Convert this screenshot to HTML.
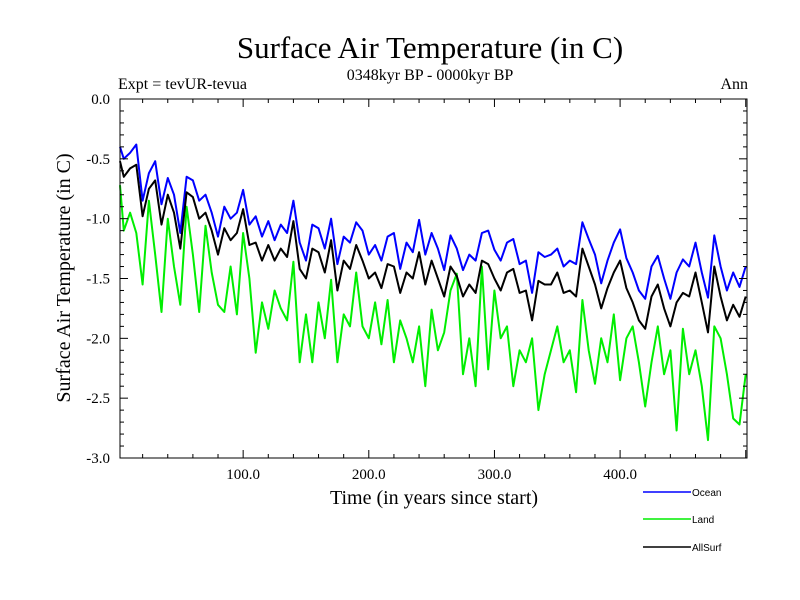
<!DOCTYPE html>
<html><head><meta charset="utf-8"><style>body{margin:0;background:#fff}svg{display:block}</style></head>
<body>
<svg id="chart" width="800" height="600" viewBox="0 0 800 600" font-family="'Liberation Serif',serif">
<text x="430" y="58" font-size="31" text-anchor="middle">Surface Air Temperature (in C)</text>
<text x="430" y="80" font-size="16" text-anchor="middle">0348kyr BP - 0000kyr BP</text>
<text x="118" y="89" font-size="16">Expt = tevUR-tevua</text>
<text x="748" y="89" font-size="16" text-anchor="end">Ann</text>
<text x="434" y="504" font-size="20" text-anchor="middle">Time (in years since start)</text>
<text transform="translate(70,278) rotate(-90)" font-size="20" text-anchor="middle">Surface Air Temperature (in C)</text>
<g id="series"></g>
<g id="axes"></g>
<g id="legend"></g>
</svg>
<script>
const years = [];
for (let i = 0; i <= 100; i++) years.push(i * 5);
const ocean = [-0.40,-0.50,-0.45,-0.38,-0.85,-0.62,-0.52,-0.88,-0.66,-0.80,-1.12,-0.65,-0.68,-0.85,-0.80,-0.95,-1.15,-0.90,-1.00,-0.95,-0.76,-1.05,-0.98,-1.15,-1.02,-1.18,-1.05,-1.12,-0.85,-1.20,-1.35,-1.05,-1.08,-1.25,-1.00,-1.38,-1.15,-1.20,-1.03,-1.10,-1.30,-1.22,-1.35,-1.15,-1.12,-1.42,-1.20,-1.28,-1.01,-1.30,-1.12,-1.25,-1.43,-1.14,-1.25,-1.43,-1.30,-1.35,-1.12,-1.10,-1.26,-1.35,-1.20,-1.17,-1.38,-1.35,-1.62,-1.28,-1.32,-1.30,-1.25,-1.40,-1.35,-1.38,-1.03,-1.17,-1.30,-1.54,-1.35,-1.20,-1.09,-1.33,-1.45,-1.60,-1.67,-1.40,-1.31,-1.50,-1.67,-1.45,-1.34,-1.40,-1.20,-1.45,-1.66,-1.14,-1.40,-1.60,-1.45,-1.57,-1.40];
const land = [-0.72,-1.10,-0.95,-1.12,-1.55,-0.85,-1.30,-1.78,-1.00,-1.40,-1.72,-0.90,-1.30,-1.78,-1.06,-1.45,-1.72,-1.78,-1.40,-1.80,-1.12,-1.50,-2.12,-1.70,-1.92,-1.60,-1.75,-1.85,-1.36,-2.20,-1.80,-2.20,-1.70,-2.00,-1.51,-2.20,-1.80,-1.90,-1.45,-1.90,-2.00,-1.70,-2.05,-1.68,-2.20,-1.85,-2.00,-2.20,-1.90,-2.40,-1.76,-2.10,-1.95,-1.60,-1.46,-2.30,-2.00,-2.40,-1.40,-2.26,-1.60,-2.00,-1.90,-2.40,-2.10,-2.20,-2.00,-2.60,-2.30,-2.10,-1.90,-2.20,-2.10,-2.45,-1.68,-2.10,-2.38,-2.00,-2.20,-1.80,-2.35,-2.00,-1.90,-2.20,-2.57,-2.20,-1.90,-2.30,-2.10,-2.77,-1.92,-2.30,-2.10,-2.40,-2.85,-1.90,-2.00,-2.30,-2.67,-2.72,-2.30];
const allsurf = [-0.52,-0.65,-0.58,-0.55,-0.98,-0.75,-0.68,-1.05,-0.80,-0.95,-1.25,-0.78,-0.82,-1.00,-0.95,-1.10,-1.30,-1.08,-1.18,-1.12,-0.92,-1.22,-1.20,-1.35,-1.22,-1.35,-1.25,-1.32,-1.02,-1.42,-1.50,-1.25,-1.28,-1.45,-1.18,-1.60,-1.35,-1.42,-1.22,-1.35,-1.50,-1.45,-1.58,-1.38,-1.40,-1.62,-1.45,-1.50,-1.28,-1.55,-1.35,-1.50,-1.65,-1.40,-1.48,-1.65,-1.55,-1.62,-1.35,-1.38,-1.50,-1.60,-1.45,-1.42,-1.62,-1.60,-1.85,-1.52,-1.55,-1.55,-1.45,-1.62,-1.60,-1.65,-1.25,-1.40,-1.55,-1.75,-1.58,-1.45,-1.35,-1.58,-1.70,-1.85,-1.92,-1.65,-1.55,-1.75,-1.90,-1.70,-1.62,-1.65,-1.45,-1.70,-1.95,-1.40,-1.65,-1.85,-1.72,-1.82,-1.65];
const yTicks = [0, -0.5, -1, -1.5, -2, -2.5, -3];
const yTickLabels = ["0.0","-0.5","-1.0","-1.5","-2.0","-2.5","-3.0"];
const xTicks = [100, 200, 300, 400];
const xTickLabels = ["100.0","200.0","300.0","400.0"];
const seriesNames = ["Ocean","Land","AllSurf"];

const NS = "http://www.w3.org/2000/svg";
const L = 120, R = 747, T = 99, B = 458;
const xMin = 2, xMax = 501;
function xs(v){ return 117.5 + (v) * (R - 117.5) / xMax; }
function ys(v){ return T + (0 - v) * (B - T) / 3; }
function mk(tag, attrs, parent){ const e = document.createElementNS(NS, tag); for (const k in attrs) e.setAttribute(k, attrs[k]); parent.appendChild(e); return e; }

const sg = document.getElementById('series');
const colors = ["#0000ff","#00ee00","#000000"];
const data = [ocean, land, allsurf];
[1,0,2].forEach(function(si){
  const vals = data[si];
  const pts = vals.map(function(v,i){ return Math.max(L, Math.min(R, xs(years[i]))).toFixed(1) + "," + ys(v).toFixed(1); }).join(" ");
  const p = mk('polyline', {points: pts, fill: "none", stroke: colors[si], "stroke-width": 2, "stroke-linejoin": "round"}, sg);
  
  
});

const ag = document.getElementById('axes');
const frame = mk('rect', {x: L, y: T, width: R - L, height: B - T, fill: "none", stroke: "#000", "stroke-width": 1}, ag);


for (let v = 0; v >= -3.0001; v -= 0.1) {
  const y = ys(v); const major = Math.abs(Math.round(v*2) - v*2) < 1e-6;
  const len = major ? 8 : 4;
  mk('line', {x1: L, x2: L + len, y1: y, y2: y, stroke: "#000"}, ag);
  mk('line', {x1: R, x2: R - len, y1: y, y2: y, stroke: "#000"}, ag);
}
for (let v = 20; v <= 500; v += 20) {
  const x = xs(v); const major = v % 100 === 0; const len = major ? 8 : 4;
  mk('line', {x1: x, x2: x, y1: B, y2: B - len, stroke: "#000"}, ag);
  mk('line', {x1: x, x2: x, y1: T, y2: T + len, stroke: "#000"}, ag);
}
yTicks.forEach(function(v,i){
  const t = mk('text', {x: 110, y: ys(v) + 5, "font-size": 15, "text-anchor": "end"}, ag);
  t.textContent = yTickLabels[i];
  
  
});
xTicks.forEach(function(v,i){
  const t = mk('text', {x: xs(v), y: 479, "font-size": 15, "text-anchor": "middle"}, ag);
  t.textContent = xTickLabels[i];
  
  
});

const lg = document.getElementById('legend');
const legendY = [492, 519, 547];
seriesNames.forEach(function(n,i){
  const g = mk('g', {}, lg);
  
  
  mk('line', {x1: 643, x2: 691, y1: legendY[i], y2: legendY[i], stroke: colors[i], "stroke-width": 1.5}, g);
  const t = mk('text', {x: 692, y: legendY[i] + 4, "font-size": 10, "font-family": "'Liberation Sans',sans-serif"}, g);
  t.textContent = n;
});
</script>
</body></html>
